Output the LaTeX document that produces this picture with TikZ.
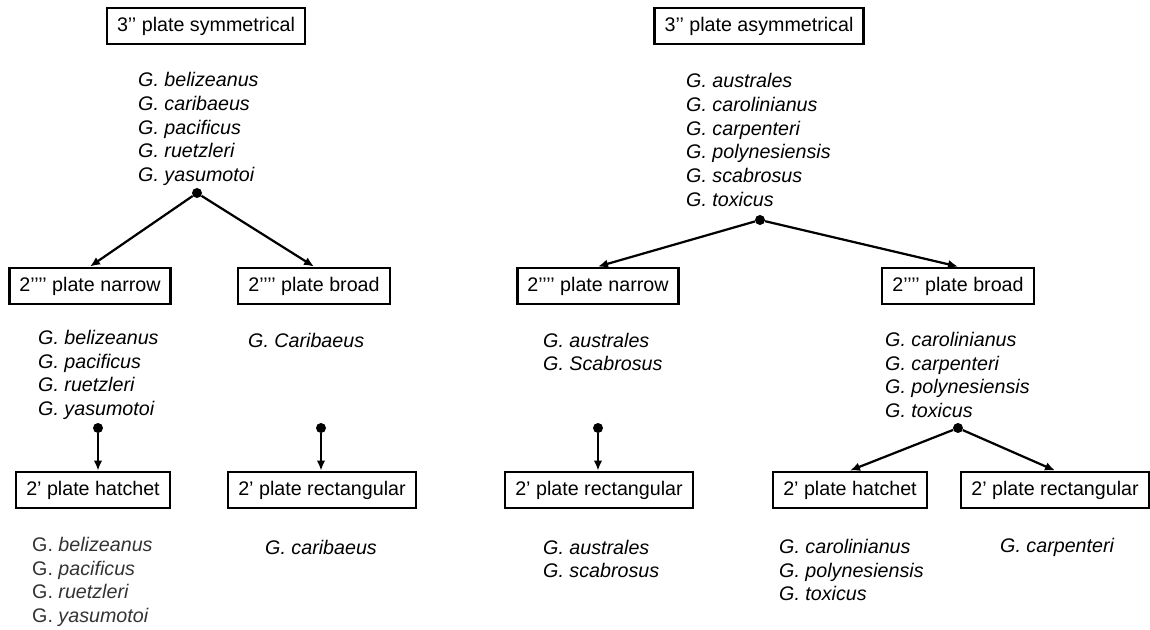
\documentclass[tikz,border=0pt]{standalone}
\usepackage{fontspec}
\setmainfont{Liberation Sans}
\usetikzlibrary{arrows.meta}

\begin{document}
\begin{tikzpicture}[
  x=0.3mm, y=-0.3mm,
  font=\fontsize{16.8}{20.2}\selectfont,
  plate/.style={
    draw=black,
    line width=1.9pt,
    minimum height=11mm,
    inner xsep=3mm,
    inner ysep=0pt,
  },
  species/.style={
    anchor=west,
    align=left,
    inner sep=0pt,
    font=\fontsize{16.8}{20.2}\selectfont\itshape,
  },
  fork/.style={
    circle,
    fill=black,
    inner sep=0pt,
    minimum size=3mm,
  },
  branch/.style={
    line width=1.9pt,
    -{Latex[length=3mm, width=2.6mm]},
  }
]
  \useasboundingbox (0,0) rectangle (1150,630);

  % 3'' plate symmetrical
  \node[plate] (sym) at (206,26) {3’’ plate symmetrical};
  \node[species] (symList) at (138,129)
    {G. belizeanus\\G. caribaeus\\G. pacificus\\G. ruetzleri\\G. yasumotoi};
  \node[fork] (symDot) at (197,193) {};

  \node[plate] (narrowL) at (90,286) {2’’’’ plate narrow};
  \node[plate] (broadL) at (314,286) {2’’’’ plate broad};
  \draw[branch] (symDot) -- (narrowL.north);
  \draw[branch] (symDot) -- (broadL.north);

  \node[species] (narrowLList) at (38,375)
    {G. belizeanus\\G. pacificus\\G. ruetzleri\\G. yasumotoi};
  \node[species] (broadLList) at (248,340) {G. Caribaeus};
  \node[fork] (narrowLDot) at (98,428) {};
  \node[fork] (broadLDot) at (321,428) {};

  \node[plate] (hatchL) at (93,490) {2’ plate hatchet};
  \node[plate] (rectL) at (322,490) {2’ plate rectangular};
  \draw[branch] (narrowLDot) -- (narrowLDot |- hatchL.north);
  \draw[branch] (broadLDot) -- (broadLDot |- rectL.north);

  \node[species, text=black!80] (hatchLList) at (32,582)
    {\upshape G.\itshape{} belizeanus\\\upshape G.\itshape{} pacificus\\
     \upshape G.\itshape{} ruetzleri\\\upshape G.\itshape{} yasumotoi};
  \node[species] (rectLList) at (265,547) {G. caribaeus};

  % 3'' plate asymmetrical
  \node[plate] (asym) at (759,26) {3’’ plate asymmetrical};
  \node[species] (asymList) at (686,140)
    {G. australes\\G. carolinianus\\G. carpenteri\\G. polynesiensis\\
     G. scabrosus\\G. toxicus};
  \node[fork] (asymDot) at (760,220) {};

  \node[plate] (narrowR) at (598,286) {2’’’’ plate narrow};
  \node[plate] (broadR) at (958,286) {2’’’’ plate broad};
  \draw[branch] (asymDot) -- (narrowR.north);
  \draw[branch] (asymDot) -- (broadR.north);

  \node[species] (narrowRList) at (543,352) {G. australes\\G. Scabrosus};
  \node[species] (broadRList) at (885,375)
    {G. carolinianus\\G. carpenteri\\G. polynesiensis\\G. toxicus};
  \node[fork] (narrowRDot) at (598,428) {};
  \node[fork] (broadRDot) at (958,428) {};

  \node[plate] (rectR) at (599,490) {2’ plate rectangular};
  \node[plate] (hatchR) at (850,490) {2’ plate hatchet};
  \node[plate] (rectRR) at (1055,490) {2’ plate rectangular};
  \draw[branch] (narrowRDot) -- (narrowRDot |- rectR.north);
  \draw[branch] (broadRDot) -- (hatchR.north);
  \draw[branch] (broadRDot) -- (rectRR.north);

  \node[species] (rectRList) at (543,559) {G. australes\\G. scabrosus};
  \node[species] (hatchRList) at (779,570)
    {G. carolinianus\\G. polynesiensis\\G. toxicus};
  \node[species] (rectRRList) at (1000,547) {G. carpenteri};

\end{tikzpicture}
\end{document}
